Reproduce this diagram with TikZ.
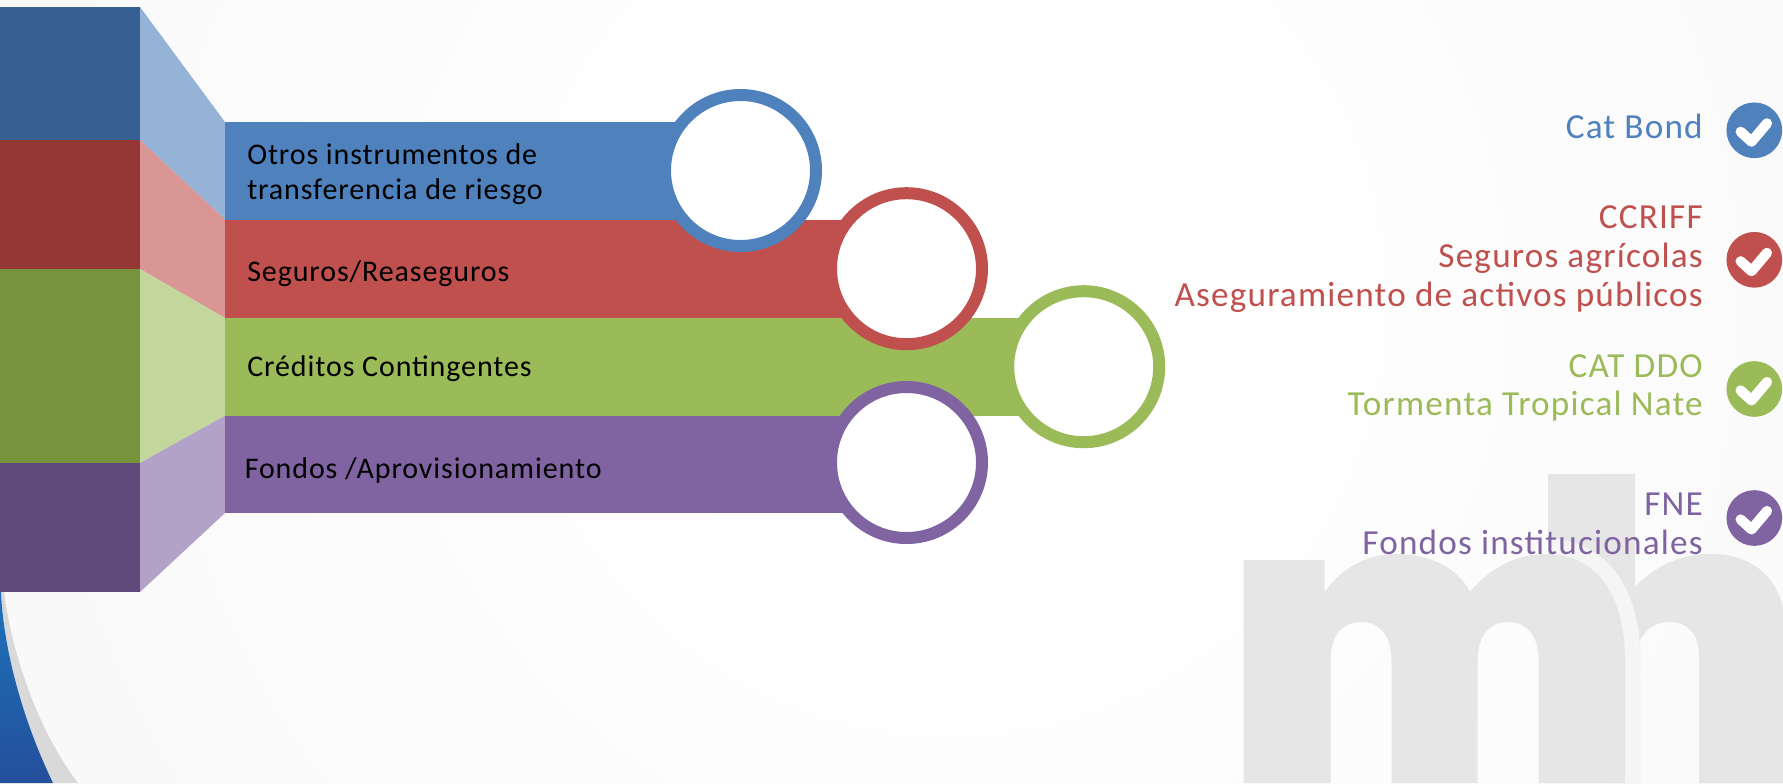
\documentclass[tikz,border=0pt]{standalone}
\usepackage{fontspec}
\setmainfont{Carlito}
\newfontfamily\listfont[LetterSpace=3.4]{Carlito}
\newfontfamily\barfont[LetterSpace=3]{Carlito}
\definecolor{barblue}{HTML}{4F81BD}
\definecolor{barred}{HTML}{C0504D}
\definecolor{bargreen}{HTML}{9BBB59}
\definecolor{barpurple}{HTML}{8064A2}
\definecolor{darkblue}{HTML}{376092}
\definecolor{darkred}{HTML}{953735}
\definecolor{darkgreen}{HTML}{77933C}
\definecolor{darkpurple}{HTML}{604A7B}
\definecolor{lightblue}{HTML}{95B3D7}
\definecolor{lightred}{HTML}{D99694}
\definecolor{lightgreen}{HTML}{C3D69B}
\definecolor{lightpurple}{HTML}{B3A2C7}
\definecolor{logogray}{HTML}{E6E6E6}
\definecolor{halogray}{HTML}{F5F5F5}
\definecolor{swooshgray}{HTML}{D9D9D9}
\definecolor{swooshtop}{HTML}{1D72BA}
\definecolor{swooshbot}{HTML}{244F9C}
\pgfdeclareradialshading{bgshade}{\pgfpointorigin}{color(0bp)=(white); color(6bp)=(white); color(50bp)=(black!6.5)}
\tikzset{
  ring/.style={circle,draw=#1,line width=9pt,fill=white,minimum size=113.25pt,inner sep=0pt},
  tick/.style={circle,fill=#1,minimum size=41.8pt,inner sep=0pt},
  barlabel/.style={anchor=base west,inner sep=0pt,align=left,text=black,font=\fontsize{22.5}{25.8}\selectfont\barfont},
  listlabel/.style={anchor=east,inner sep=0pt,align=right,text=#1,font=\fontsize{26.4}{29.1}\selectfont\listfont},
}
\newcommand{\hpath}{(1548,474) -- (1635,474) -- (1635,587) .. controls (1655,566) and (1680,554) .. (1711,554) .. controls (1750,554) and (1775,575) .. (1783,607) -- (1783,783) -- (1699,783) -- (1699,655) .. controls (1699,635) and (1688,622) .. (1670,622) .. controls (1656,622) and (1647,628) .. (1640,640) -- (1640,783) -- (1548,783) -- cycle}
\begin{document}
\begin{tikzpicture}[x=0.75pt,y=0.75pt,yscale=-1,xscale=1]
\useasboundingbox (0,0) rectangle (1783,783);
\clip (0,0) rectangle (1783,783);

%background
\path[shading=bgshade] (-150,-800) rectangle (2050,1400);

%swoosh bottom left
\fill[swooshgray] (1,592) .. controls (3,640) and (18,710) .. (53,783) -- (78,783) .. controls (40,733) and (13,660) .. (4,592) -- cycle;
\shade[top color=swooshtop,bottom color=swooshbot] (0,592) -- (1,592) .. controls (3,640) and (18,710) .. (53,783) -- (0,783) -- cycle;

%logo
\fill[logogray] \hpath;
\begin{scope}
\clip \hpath;
\draw[halogray,line width=23pt] (1546,554) .. controls (1600,554) and (1625,600) .. (1625,660) -- (1625,783);
\end{scope}
\fill[logogray] (1243.5,560) -- (1324.5,560) -- (1324.5,592) .. controls (1342,568) and (1366,554) .. (1396,554) .. controls (1430,554) and (1458,568) .. (1470,592) .. controls (1490,568) and (1516,554) .. (1546,554) .. controls (1600,554) and (1625,600) .. (1625,660) -- (1625,783) -- (1538.7,783) -- (1538.7,660) .. controls (1538.7,635) and (1526,622) .. (1508,622) .. controls (1490,622) and (1477.7,635) .. (1477.7,660) -- (1477.7,783) -- (1391.5,783) -- (1391.5,660) .. controls (1391.5,635) and (1379,622) .. (1361,622) .. controls (1343,622) and (1330.5,635) .. (1330.5,660) -- (1330.5,783) -- (1243.5,783) -- cycle;

%left column, slanted faces and bars
\foreach \top/\bot/\inA/\inB/\dk/\lt in {7/140/122/219.5/darkblue/lightblue,140/269/219.5/318/darkred/lightred,269/463/318/415.7/darkgreen/lightgreen,463/592/415.7/513/darkpurple/lightpurple}{
  \fill[\dk] (0,\top) rectangle (140,\bot);
  \fill[\lt] (140,\top) -- (225,\inA) -- (225,\inB) -- (140,\bot) -- cycle;
}
\fill[bargreen] (225,317.7) rectangle (1083,415.7);
\fill[barpurple] (225,415.7) rectangle (906,513);
\fill[barred] (225,219.5) rectangle (906,317.7);
\fill[barblue] (225,122) rectangle (740,219.5);

%rings
\node[ring=barblue] (ringblue) at (740.5,170.5) {};
\node[ring=barred] (ringred) at (906.5,268.7) {};
\node[ring=bargreen] (ringgreen) at (1083.7,366.7) {};
\node[ring=barpurple] (ringpurple) at (906.5,462.5) {};

%bar texts
\node[barlabel] (txtblue) at (247,199) {Otros instrumentos de\\transferencia de riesgo};
\node[barlabel] (txtred) at (247,281) {Seguros/Reaseguros};
\node[barlabel] (txtgreen) at (247,376.7) {Créditos Contingentes};
\node[barlabel] (txtpurple) at (244.5,478.7) {Fondos /Aprovisionamiento};

%list on the right
\node[listlabel=barblue] (catbond) at (1703,126) {Cat Bond};
\node[listlabel=barred] (ccriff) at (1703,259) {CCRIFF\\Seguros agrícolas\\Aseguramiento de activos públicos};
\node[listlabel=bargreen] (catddo) at (1703,388) {CAT DDO\\Tormenta Tropical Nate};
\node[listlabel=barpurple] (fne) at (1703,524) {FNE\\Fondos institucionales};

%check marks
\foreach \nm/\cy/\col in {checkblue/130.3/barblue,checkred/259.8/barred,checkgreen/389/bargreen,checkpurple/518/barpurple}{
  \node[tick=\col] (\nm) at (1754.3,\cy) {};
  \draw[white,line width=7.6pt,line join=round,line cap=round] ([shift={(-13.7,1.4)}]\nm.center) -- ([shift={(-2.8,11.4)}]\nm.center) -- ([shift={(12.7,-7)}]\nm.center);
}
\end{tikzpicture}
\end{document}
